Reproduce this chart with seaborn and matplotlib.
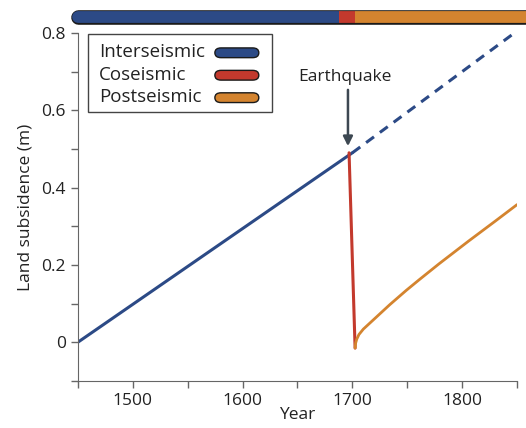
import numpy as np
import pandas as pd
import matplotlib
matplotlib.use('Agg')
import matplotlib.pyplot as plt
from matplotlib.patches import FancyBboxPatch, Rectangle
import seaborn as sns

# data
inter_years = [1450, 1700]
inter_vals = [0.0, 0.49]
future_years = [1700, 1850]
future_vals = [0.49, 0.805]
co_years = [1697, 1702.5]
co_vals = [0.49, -0.015]
post_years = [1702.5, 1703, 1704, 1706, 1710, 1718, 1734, 1749, 1761, 1779, 1806, 1830, 1850]
post_vals = [-0.015, -0.002, 0.008, 0.02, 0.034, 0.055, 0.097, 0.134, 0.162, 0.203, 0.262, 0.313, 0.356]
phase_names = ['Interseismic', 'Coseismic', 'Postseismic']
phase_spans = [(1450, 1688), (1688, 1702), (1702, 1870)]
x_ticks = [1450, 1500, 1550, 1600, 1650, 1700, 1750, 1800, 1850]
x_labels = ['', '1500', '', '1600', '', '1700', '', '1800', '']
y_ticks = [-0.1, 0, 0.1, 0.2, 0.3, 0.4, 0.5, 0.6, 0.7, 0.8]
y_labels = ['', '0', '', '0.2', '', '0.4', '', '0.6', '', '0.8']

blue = '#2c4a86'
red = '#c3392d'
orange = '#d4842f'
dark = '#3d4852'
colors = [blue, red, orange]

sns.set_style('ticks')
plt.rcParams['font.family'] = ['Open Sans', 'DejaVu Sans']

fig = plt.figure(figsize=(5.26, 4.28), dpi=100)
ax = fig.add_axes([0.148, 0.110, 0.835, 0.813])

sns.lineplot(x=inter_years, y=inter_vals, color=blue, lw=2.2, ax=ax)
ax.plot(future_years, future_vals, color=blue, lw=2.2, ls=(0, (3.2, 2.4)), clip_on=False)
sns.lineplot(x=co_years, y=co_vals, color=red, lw=2.2, ax=ax)
sns.lineplot(x=post_years, y=post_vals, color=orange, lw=2.0, ax=ax)

ax.set_xlim(1450, 1850)
ax.set_ylim(-0.1, 0.8)
ax.set_xticks(x_ticks)
ax.set_xticklabels(x_labels)
ax.set_yticks(y_ticks)
ax.set_yticklabels(y_labels)
ax.tick_params(colors='#666666', labelcolor='#222222', labelsize=12.5, length=5, width=1)
ax.set_xlabel('Year', fontsize=12.5, color='#222222', labelpad=-1)
ax.set_ylabel('Land subsidence (m)', fontsize=12.5, color='#222222', labelpad=6)
sns.despine(ax=ax)
for s in ['left', 'bottom']:
    ax.spines[s].set_color('#666666')

# phase bar above the axes
bar_y = 0.84
ax.plot([phase_spans[0][0], phase_spans[-1][1]], [bar_y, bar_y], color='#1a1a1a', lw=10.5,
        solid_capstyle='round', clip_on=False)
for (a, b), c in zip(phase_spans, colors):
    cap = 'round' if c == blue else 'butt'
    ax.plot([a, b], [bar_y, bar_y], color=c, lw=8.5, solid_capstyle=cap, clip_on=False)

# earthquake arrow
ax.annotate('', xy=(1696, 0.50), xytext=(1696, 0.66),
            arrowprops=dict(arrowstyle='-|>', color=dark, lw=1.8, mutation_scale=14))
ax.text(1693, 0.685, 'Earthquake', ha='center', va='center', fontsize=12.5, color='#222222')

# legend box
ax.add_patch(Rectangle((0.023, 0.773), 0.419, 0.224, transform=ax.transAxes,
                       facecolor='white', edgecolor='#444444', lw=1.0))
for i, (name, c) in enumerate(zip(phase_names, colors)):
    yy = 0.945 - i * 0.0645
    ax.text(0.048, yy, name, transform=ax.transAxes, ha='left', va='center',
            fontsize=13.5, color='#222222')
    ax.add_patch(FancyBboxPatch((0.312, yy - 0.016), 0.1, 0.028, transform=ax.transAxes,
                                boxstyle='round,pad=0,rounding_size=0.014',
                                facecolor=c, edgecolor='#1a1a1a', lw=1.0,
                                mutation_aspect=1))

fig.savefig('out.png', dpi=100)
